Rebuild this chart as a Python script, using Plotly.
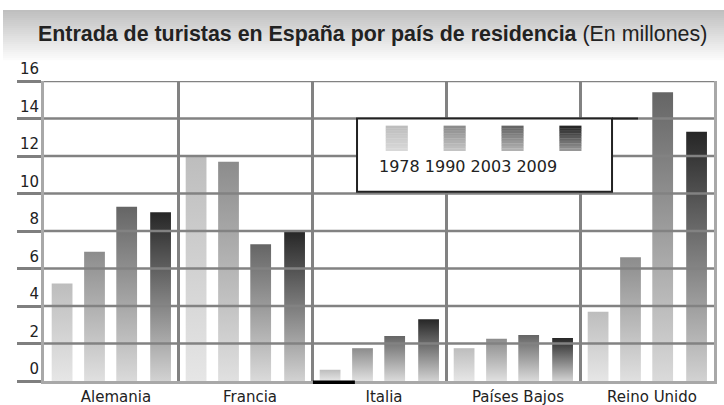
import plotly.graph_objects as go

COUNTRIES = ["Alemania", "Francia", "Italia", "Países Bajos", "Reino Unido"]
YEARS = ["1978", "1990", "2003", "2009"]
V1978 = [5.2, 12.05, 0.6, 1.75, 3.7]
V1990 = [6.9, 11.7, 1.75, 2.25, 6.6]
V2003 = [9.3, 7.3, 2.4, 2.45, 15.4]
V2009 = [9.0, 8.0, 3.3, 2.3, 13.3]
SERIES = [V1978, V1990, V2003, V2009]
Y_TICKS = [0, 2, 4, 6, 8, 10, 12, 14, 16]

TITLE_BOLD = "Entrada de turistas en España por país de residencia"
TITLE_NORMAL = "(En millones)"

# (bottom, top) colour of each series gradient
GRADS = [("#e6e6e6", "#bdbdbd"),
         ("#e0e0e0", "#8c8c8c"),
         ("#dadada", "#656565"),
         ("#d2d2d2", "#262626")]
BAR_OFFSETS = [-0.365, -0.123, 0.117, 0.37]
BAR_W = 0.155
GRID = "#828282"
AXIS = "#a8a8a8"
TXT = "#222222"
FONT = "DejaVu Sans, Verdana, sans-serif"

L, R, T, B = 44, 10, 81, 24
W, H = 724, 405
PW, PH = W - L - R, H - T - B


def mix(c1, c2, t):
    a = [int(c1[k:k + 2], 16) for k in (1, 3, 5)]
    b = [int(c2[k:k + 2], 16) for k in (1, 3, 5)]
    return "#%02x%02x%02x" % tuple(round(a[k] + (b[k] - a[k]) * t) for k in range(3))


def px_x(x):
    return (x - L) / PW


def px_y(y):
    return (H - B - y) / PH


fig = go.Figure()

for j, (year, vals) in enumerate(zip(YEARS, SERIES)):
    bottom, top = GRADS[j]
    for i, v in enumerate(vals):
        xc = i + BAR_OFFSETS[j]
        x0, x1 = xc - BAR_W / 2, xc + BAR_W / 2
        fig.add_trace(go.Scatter(
            x=[x0, x0, x1, x1, x0], y=[0, v, v, 0, 0],
            mode="lines", fill="toself", line=dict(width=0, color=top),
            fillgradient=dict(type="vertical", colorscale=[[0, bottom], [1, top]]),
            name=year, showlegend=False, hoverinfo="skip",
        ))

shapes = []

# title banner, grey fading to white
n = 25
for k in range(n):
    shapes.append(dict(
        type="rect", xref="paper", yref="paper",
        x0=px_x(3), x1=px_x(W), y0=px_y(10 + 2 * k + 2.2), y1=px_y(10 + 2 * k),
        fillcolor=mix("#bfbfbf", "#fbfbfb", k / (n - 1)), line=dict(width=0), layer="below",
    ))

# horizontal grid drawn over the bars
for v in Y_TICKS[1:]:
    shapes.append(dict(type="line", xref="paper", yref="y", x0=0, x1=1, y0=v, y1=v,
                       line=dict(color=GRID, width=2.5), layer="above"))

# black stroke under Italia 1978
shapes.append(dict(type="line", xref="x", yref="paper", x0=1.507, x1=1.82, y0=-0.004, y1=-0.004,
                   line=dict(color="#000000", width=3.5), layer="above"))

# legend box
BOX_X0, BOX_X1, BOX_Y0, BOX_Y1 = 1.836, 3.739, 10.1, 14
shapes.append(dict(type="rect", xref="x", yref="y", x0=BOX_X0, x1=BOX_X1, y0=BOX_Y0, y1=BOX_Y1,
                   fillcolor="white", line=dict(color=TXT, width=2), layer="above"))
shapes.append(dict(type="line", xref="x", yref="y", x0=BOX_X1, x1=3.933, y0=BOX_Y1, y1=BOX_Y1,
                   line=dict(color=TXT, width=2), layer="above"))

LEG_X0, LEG_DX, LEG_W = 2.05, 0.432, 0.165
SW_TOP, SW_BOT = 13.62, 12.28
m = 10
for j in range(len(YEARS)):
    bottom, top = GRADS[j]
    lo = mix(top, bottom, 0.65)
    for k in range(m):
        ya = SW_TOP - (SW_TOP - SW_BOT) * k / m
        yb = SW_TOP - (SW_TOP - SW_BOT) * (k + 1.1) / m
        shapes.append(dict(type="rect", xref="x", yref="y",
                           x0=LEG_X0 + j * LEG_DX, x1=LEG_X0 + j * LEG_DX + LEG_W, y0=yb, y1=ya,
                           fillcolor=mix(top, lo, k / (m - 1)), line=dict(width=0), layer="above"))

annotations = [
    dict(xref="x", yref="y", x=1.985, y=11.45, xanchor="left", yanchor="middle",
         text=" ".join(YEARS), showarrow=False, font=dict(family=FONT, size=16, color=TXT)),
    dict(xref="paper", yref="paper", x=px_x(36), y=px_y(34), xanchor="left", yanchor="middle",
         text=f"<b>{TITLE_BOLD}</b> {TITLE_NORMAL}", showarrow=False,
         font=dict(family="Liberation Sans, Arial, sans-serif", size=21.4, color=TXT)),
]

fig.update_layout(
    width=W, height=H,
    margin=dict(l=L, r=R, t=T, b=B, pad=0),
    paper_bgcolor="white", plot_bgcolor="white",
    showlegend=False, hovermode=False,
    shapes=shapes, annotations=annotations,
    font=dict(family=FONT, color=TXT),
)
fig.update_xaxes(
    range=[-0.5, 4.5], tickvals=list(range(len(COUNTRIES))), ticktext=COUNTRIES,
    ticks="", showgrid=False, zeroline=False, automargin=False,
    showline=True, linecolor=AXIS, linewidth=3,
    tickfont=dict(size=15, color=TXT), ticklabelshift=5,
    minor=dict(tickvals=[0.5, 1.5, 2.5, 3.5], showgrid=True, gridcolor=GRID, gridwidth=2.5, ticks=""),
)
fig.update_yaxes(
    range=[0, 16], tickvals=Y_TICKS, showgrid=False, zeroline=False, automargin=False,
    showline=True, linecolor=AXIS, linewidth=3, mirror=True,
    ticks="outside", ticklen=24, tickwidth=3, tickcolor="#7f7f7f",
    tickfont=dict(size=15, color=TXT), ticklabelshift=-12, ticklabelstandoff=-25,
)

# drop the default page margin so the figure sits at the window corner
fig.write_html("out.html", config={"displayModeBar": False},
               post_script="document.body.style.margin = '0';")
